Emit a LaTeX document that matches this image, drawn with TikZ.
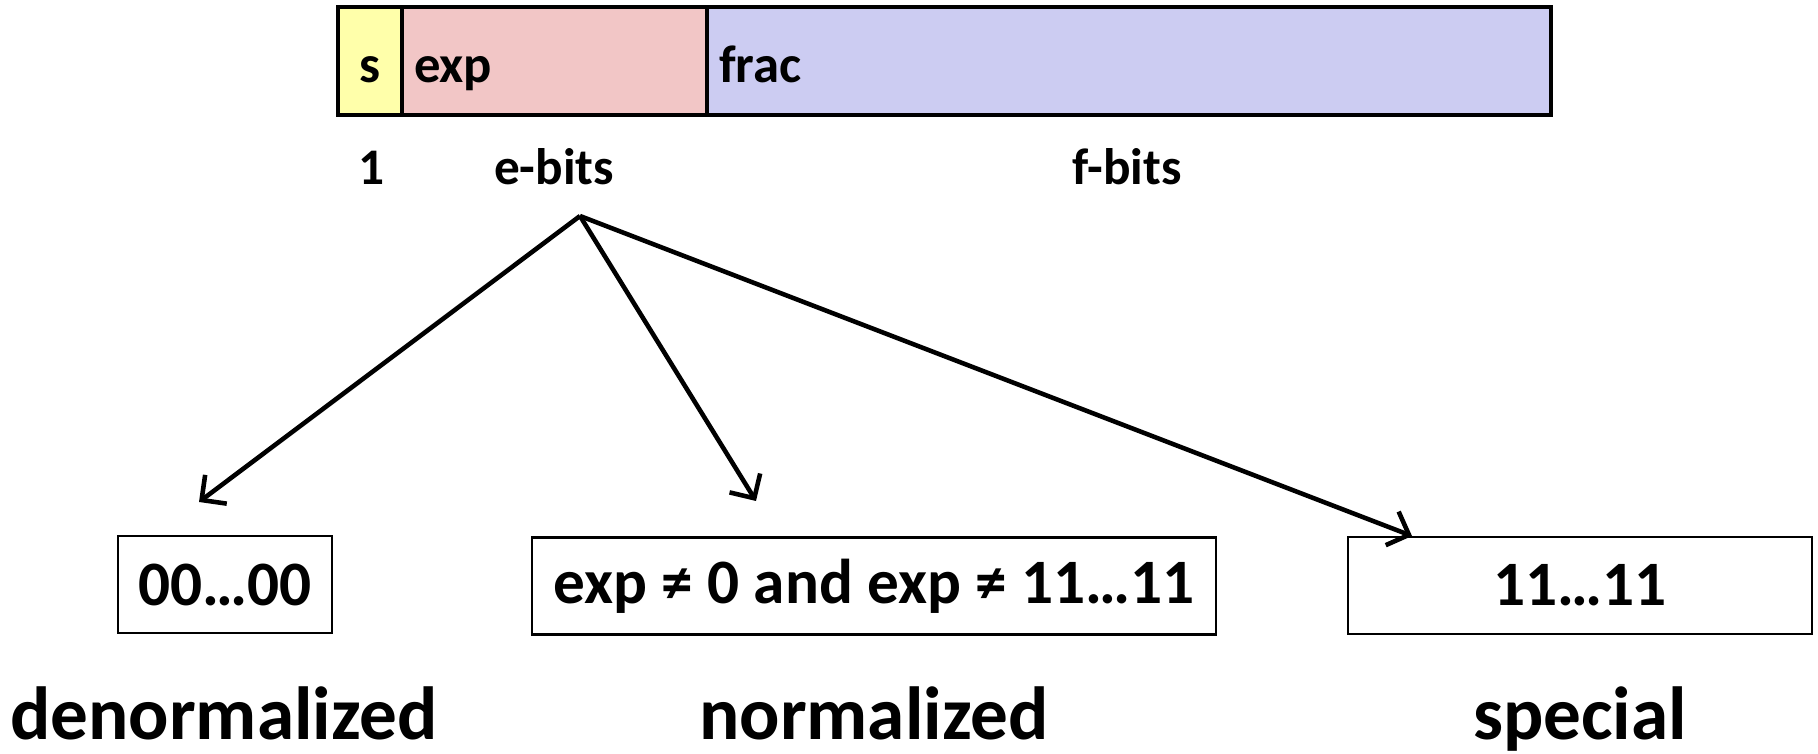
\documentclass[tikz,border=0pt]{standalone}
\usepackage{fontspec}
\setmainfont{Carlito}[BoldFont={Carlito Bold}]
\usetikzlibrary{positioning, arrows.meta}

\definecolor{sgncol}{RGB}{255,255,170}
\definecolor{expcol}{RGB}{242,198,198}
\definecolor{fraccol}{RGB}{204,204,242}

\begin{document}
\begin{tikzpicture}[
    field/.style={rectangle, draw=black, line width=1.4pt, minimum height=1.08cm,
                  inner xsep=0.12cm, inner ysep=0pt, text height=0.56cm, text depth=0.12cm,
                  align=left, font=\fontsize{15}{18}\selectfont\bfseries},
    bitlbl/.style={anchor=base, font=\fontsize{14.6}{18}\selectfont\bfseries},
    valbox/.style={rectangle, draw=black, line width=0.8pt, minimum height=0.97cm,
                   font=\fontsize{18}{21}\selectfont\bfseries},
    kind/.style={anchor=base, font=\fontsize{21.4}{25}\selectfont\bfseries},
    arrow/.style={-{Straight Barb[length=1.8mm, width=3.6mm, line width=1.3pt]}, line width=1.3pt}
]
    \useasboundingbox (0,0) rectangle (18.18,-7.54);

    % Bit fields
    \node[field, fill=sgncol, minimum width=0.64cm, align=center] (sfld) at (3.70,-0.61) {s};
    \node[field, fill=expcol, minimum width=3.05cm, text width=2.81cm] (efld) at (5.545,-0.61) {exp};
    \node[field, fill=fraccol, minimum width=8.44cm, text width=8.20cm] (ffld) at (11.29,-0.61) {frac};

    % Field widths
    \node[bitlbl] (sbits) at (3.71,-1.85) {1};
    \node[bitlbl] (ebits) at (5.54,-1.85) {e-bits};
    \node[bitlbl] (fbits) at (11.27,-1.85) {f-bits};

    % Exponent cases
    \node[valbox, minimum width=2.14cm] (zeros) at (2.25,-5.845) {00…00};
    \node[valbox, minimum width=6.84cm] (mid) at (8.74,-5.86) {exp ≠ 0 and exp ≠ 11…11};
    \node[valbox, minimum width=4.64cm] (ones) at (15.80,-5.855) {11…11};

    % Arrows
    \coordinate (split) at (5.80,-2.16);
    \coordinate (tipA) at (1.99,-5.02);
    \coordinate (tipB) at (7.56,-5.01);
    \coordinate (tipC) at (14.12,-5.36);
    \draw[arrow] (split) -- (tipA);
    \draw[arrow] (split) -- (tipB);
    \draw[arrow] (split) -- (tipC);

    % Names
    \node[kind] (denorm) at (2.24,-7.40) {denormalized};
    \node[kind] (norm) at (8.74,-7.40) {normalized};
    \node[kind] (spec) at (15.80,-7.40) {special};
\end{tikzpicture}
\end{document}
